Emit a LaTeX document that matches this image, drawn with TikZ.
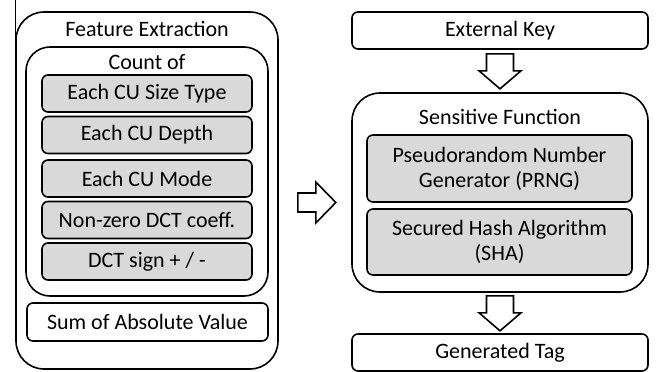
\documentclass[tikz,border=0pt]{standalone}
\usepackage{fontspec}
\setmainfont{Carlito}
\usetikzlibrary{calc}
\definecolor{boxgray}{HTML}{D9D9D9}
\tikzset{
  box/.style={draw=black, line width=1.6pt, rounded corners=#1, inner sep=0pt,
    font=\fontsize{22}{25}\selectfont, align=center},
  box/.default=6pt,
  graybox/.style={box=6pt, fill=boxgray},
  title/.style={inner sep=0pt, font=\fontsize{22}{25}\selectfont},
  blockarrow/.style={draw=black, line width=1.6pt, fill=white, line join=miter}
}
\begin{document}
\begin{tikzpicture}[x=1pt,y=-1pt]
\useasboundingbox (0,0) rectangle (656,372);

% stray rule at the left margin
\draw[line width=0.8pt] (15,0) -- (15,190);

% ---- feature extraction ----
\node[box=28pt, minimum width=262pt, minimum height=357pt] (fe) at (147,190.5) {};
\node[title] (fet) at (147,29) {Feature Extraction};
\node[box=24pt, minimum width=242pt, minimum height=249pt] (cnt) at (147,171.5) {};
\node[title] (cntt) at (147,62) {Count of};
\node[graybox, minimum width=210pt, minimum height=37pt] (g1) at (147,93.5) {Each CU Size Type};
\node[graybox, minimum width=210pt, minimum height=37pt] (g2) at (147,135) {Each CU Depth};
\node[graybox, minimum width=210pt, minimum height=37pt] (g3) at (147,178.5) {Each CU Mode};
\node[graybox, minimum width=210pt, minimum height=37pt] (g4) at (147,220) {Non-zero DCT coeff.};
\node[graybox, minimum width=210pt, minimum height=37pt] (g5) at (147,261.5) {DCT sign + / -};
\node[box, minimum width=241pt, minimum height=38pt] (sum) at (147.5,322) {Sum of Absolute Value};

% ---- key, function, tag ----
\node[box, minimum width=296pt, minimum height=37pt] (ek) at (500,30.5) {External Key};
\node[box=28pt, minimum width=296pt, minimum height=199pt] (sf) at (500,192.5) {};
\node[title] (sft) at (500,117) {Sensitive Function};
\node[graybox, minimum width=265pt, minimum height=67pt] (prng) at (499.5,168.5) {Pseudorandom Number\\Generator (PRNG)};
\node[graybox, minimum width=265pt, minimum height=66pt] (sha) at (499.5,242) {Secured Hash Algorithm\\(SHA)};
\node[box, minimum width=296pt, minimum height=37pt] (tag) at (500,352.5) {Generated Tag};

% ---- block arrows ----
% feature extraction -> sensitive function
\draw[blockarrow] ($(fe.east)+(19,2.5)$) coordinate (a1) -- ++(18,0) -- ++(0,-11) -- ++(20,20.5)
  -- ++(-20,20.5) -- ++(0,-11) -- ++(-18,0) -- cycle;
% external key -> sensitive function
\draw[blockarrow] ($(ek.south)+(-13.5,4)$) -- ++(27,0) -- ++(0,17) -- ++(7.5,0) -- ++(-21,18)
  -- ++(-21,-18) -- ++(7.5,0) -- cycle;
% sensitive function -> generated tag
\draw[blockarrow] ($(sf.south)+(-13.5,3)$) -- ++(27,0) -- ++(0,17) -- ++(7.5,0) -- ++(-21,18)
  -- ++(-21,-18) -- ++(7.5,0) -- cycle;
\end{tikzpicture}
\end{document}
